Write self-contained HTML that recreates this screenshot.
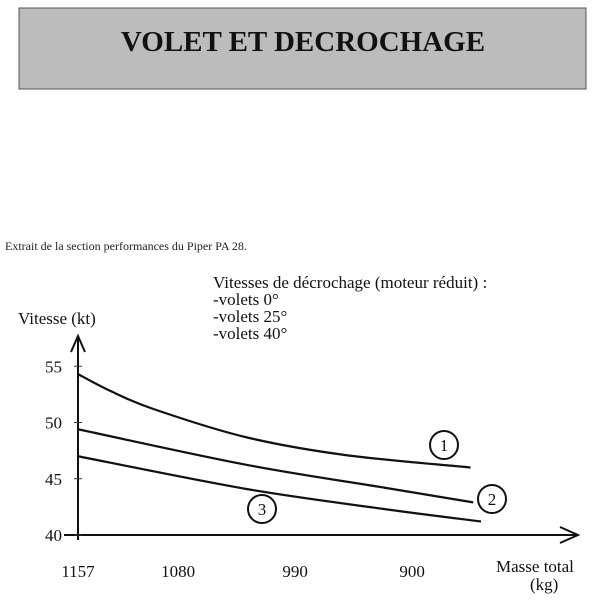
<!DOCTYPE html>
<html><head><meta charset="utf-8"><style>
body{margin:0;width:600px;height:603px;background:#fff;overflow:hidden;font-family:"Liberation Serif",serif;}
</style></head><body>
<svg width="600" height="603" style="position:absolute;left:0;top:0">
<rect x="19" y="8" width="567" height="81" fill="#bcbcbc" stroke="#555" stroke-width="1"/>
<text x="303" y="51" text-anchor="middle" font-size="29" font-weight="bold" fill="#111">VOLET ET DECROCHAGE</text>
<text x="5" y="250" font-size="12" fill="#222">Extrait de la section performances du Piper PA 28.</text>
<text x="213" y="288" font-size="17" fill="#111">Vitesses de décrochage (moteur réduit) :</text>
<text x="213" y="305" font-size="17" fill="#111">-volets   0°</text>
<text x="213" y="322" font-size="17" fill="#111">-volets 25°</text>
<text x="213" y="339" font-size="17" fill="#111">-volets 40°</text>
<text x="18" y="324" font-size="17" fill="#111">Vitesse (kt)</text>
<text x="496" y="572" font-size="17" fill="#111">Masse total</text>
<text x="530" y="590" font-size="17" fill="#111">(kg)</text>
<g id="chart"></g>
</svg>
<script>
const yTicks=[40,45,50,55];
const xTicks=[1157,1080,990,900];
const mass1=[1157,1132,1099,1028,951,855];
const speed1=[54.3,52.8,51.2,48.7,47.1,46.0];
const mass2=[1157,1028,921,853];
const speed2=[49.4,46.25,44.2,42.9];
const mass3=[1157,1028,921,847];
const speed3=[47.0,44.1,42.3,41.2];
const labelNames=["1","2","3"];
const NS="http://www.w3.org/2000/svg";
const g=document.getElementById('chart');
function X(m){return 78+(1157-m)*1.3;}
function Y(v){return 535-(v-40)*11.25;}
function el(t,a){const e=document.createElementNS(NS,t);for(const k in a)e.setAttribute(k,a[k]);g.appendChild(e);return e;}
let e;
e=el('path',{d:'M78,540 V336 M71,352 L78,336 L85,352',stroke:'#111','stroke-width':2,fill:'none'});


e=el('path',{d:'M64,535 H578 M560,527 L578,535 L560,543',stroke:'#111','stroke-width':2,fill:'none'});


yTicks.forEach(v=>{
 e=el('text',{x:62,y:Y(v)+6,'font-size':17,'text-anchor':'end',fill:'#111'});e.textContent=v;
 
 
 e=el('line',{x1:74,x2:82,y1:Y(v),y2:Y(v),stroke:'#333','stroke-width':1});
 
 
});
xTicks.forEach(m=>{
 e=el('text',{x:X(m),y:577,'font-size':17,'text-anchor':'middle',fill:'#111'});e.textContent=m;
 
 
});
function curve(ms,vs,name){
 const p=ms.map((m,i)=>[X(m),Y(vs[i])]);
 let d='M'+p[0][0]+','+p[0][1];
 for(let i=0;i<p.length-1;i++){
  const p0=p[Math.max(0,i-1)],p1=p[i],p2=p[i+1],p3=p[Math.min(p.length-1,i+2)];
  const c1x=p1[0]+(p2[0]-p0[0])/6,c1y=p1[1]+(p2[1]-p0[1])/6;
  const c2x=p2[0]-(p3[0]-p1[0])/6,c2y=p2[1]-(p3[1]-p1[1])/6;
  d+=' C'+c1x+','+c1y+' '+c2x+','+c2y+' '+p2[0]+','+p2[1];
 }
 e=el('path',{d:d,stroke:'#111','stroke-width':2.2,fill:'none'});
 
 
}
curve(mass1,speed1,'curve-flaps-0');
curve(mass2,speed2,'curve-flaps-25');
curve(mass3,speed3,'curve-flaps-40');
const lab=[[444,445],[492,499],[262,509]];
labelNames.forEach((n,i)=>{
 e=el('circle',{cx:lab[i][0],cy:lab[i][1],r:14,fill:'none',stroke:'#111','stroke-width':2});
 
 
 e=el('text',{x:lab[i][0],y:lab[i][1]+6,'font-size':17,'text-anchor':'middle',fill:'#111'});e.textContent=n;
 
 
});
</script>
</body></html>
